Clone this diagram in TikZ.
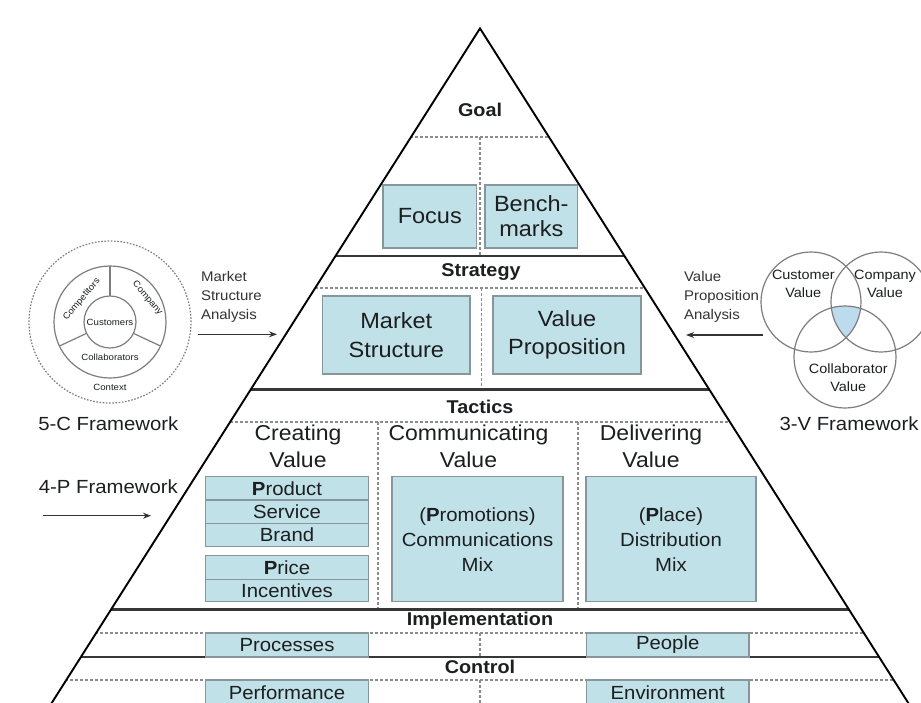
\documentclass[tikz,border=0pt]{standalone}
\usepackage{fontspec}
\setmainfont{Liberation Sans}[FakeStretch=1.07]
\usetikzlibrary{arrows.meta}

\definecolor{boxfill}{RGB}{192,225,231}
\definecolor{boxline}{RGB}{135,150,155}
\definecolor{levelline}{RGB}{55,55,55}
\definecolor{dashline}{RGB}{140,140,140}
\definecolor{inktext}{RGB}{28,30,32}
\definecolor{ringline}{RGB}{125,125,125}
\definecolor{overlap}{RGB}{188,220,238}

\newcommand{\fsz}[2]{\fontsize{#1}{#2}\selectfont}

\tikzset{
  box/.style={rectangle, draw=boxline, fill=boxfill, line width=1.1pt,
              inner sep=0pt, align=center, text=inktext},
  levelrule/.style={draw=levelline, line width=2.8pt},
  dashrule/.style={draw=dashline, line width=1.3pt, dash pattern=on 3pt off 2pt},
  edge/.style={draw=black, line width=1.9pt, line join=miter},
  levellabel/.style={font=\fsz{18.5}{20}\bfseries, text=inktext},
  colhead/.style={font=\fsz{21.5}{27}, align=center, text=inktext},
  sidetext/.style={font=\fsz{14}{19}, align=left, anchor=west, text=black!80},
  frametitle/.style={font=\fsz{19}{22}, text=inktext},
  ring/.style={draw=ringline, line width=1.2pt},
  tiny/.style={font=\fsz{9}{10}, text=inktext, inner sep=0pt},
  venntext/.style={font=\fsz{13.5}{18.3}, align=center, text=inktext},
  feed/.style={draw=black!80, line width=1.2pt, -{Stealth[length=8pt,width=6pt]}}
}

\begin{document}
\begin{tikzpicture}[x=1pt, y=-1pt]
\useasboundingbox (0,0) rectangle (921,702);
\clip (0,0) rectangle (921,702);
\fill[white] (0,0) rectangle (921,702);

% pyramid outline points
\coordinate (apex) at (480,28.4);
\coordinate (bl) at (15.5,760);
\coordinate (br) at (944.5,760);

% level separators, trimmed to the pyramid
\begin{scope}
  \clip (apex) -- (bl) -- (br) -- cycle;
  \draw[dashrule] (0,137) -- (921,137);
  \draw[dashrule] (0,288) -- (921,288);
  \draw[dashrule] (0,422) -- (921,422);
  \draw[dashrule] (0,633) -- (921,633);
  \draw[dashrule] (0,680) -- (921,680);
  \draw[levelrule] (0,256) -- (921,256);
  \draw[levelrule] (0,389.3) -- (921,389.3);
  \draw[levelrule] (0,609.3) -- (921,609.3);
  \draw[levelrule] (0,657) -- (921,657);
\end{scope}

% column dividers
\draw[dashrule] (480,137) -- (480,255);
\draw[dashrule] (481.7,288) -- (481.7,388);
\draw[dashrule] (378,422) -- (378,608);
\draw[dashrule] (578,422) -- (578,608);
\draw[dashrule] (480,633) -- (480,656);
\draw[dashrule] (480,680) -- (480,710);

% level titles
\node[levellabel] (goal) at (480,110) {Goal};
\node[levellabel] (strategy) at (481,272) {Strategy};
\node[levellabel] (tactics) at (480,407) {Tactics};
\node[levellabel] (impl) at (480,620.7) {Implementation};
\node[levellabel] (control) at (480,667) {Control};

% goal
\node[box, minimum width=93.7pt, minimum height=63pt, font=\fsz{22}{25}] (focus) at (429.8,216.5) {Focus};
\node[box, minimum width=92.7pt, minimum height=63pt, font=\fsz{22}{25}] (bench) at (531.3,216.5) {Bench-\\marks};

% strategy
\node[box, minimum width=147.3pt, minimum height=78pt, font=\fsz{22}{28.5}] (mstruct) at (396.3,335) {Market\\Structure};
\node[box, minimum width=148pt, minimum height=78pt, font=\fsz{22}{28.5}] (vprop) at (567,335) {Value\\Proposition};

% tactics
\node[colhead] (creating) at (298,446.5) {Creating\\Value};
\node[colhead] (communicating) at (468.5,446.5) {Communicating\\Value};
\node[colhead] (delivering) at (651,446.5) {Delivering\\Value};

\begin{scope}[every node/.style={box, minimum width=162.6pt, font=\fsz{19}{22}}]
  \node[minimum height=23.3pt] (product) at (287,488.3) {{\bfseries P}roduct};
  \node[minimum height=23.3pt] (service) at (287,511.7) {Service};
  \node[minimum height=23.3pt] (brand) at (287,535) {Brand};
  \node[minimum height=24.3pt] (price) at (287,567.2) {{\bfseries P}rice};
  \node[minimum height=22.4pt] (incent) at (287,590.5) {Incentives};
\end{scope}

\node[box, minimum width=171pt, minimum height=125pt, font=\fsz{19}{25}] (commix) at (477.5,539.2)
  {({\bfseries P}romotions)\\Communications\\Mix};
\node[box, minimum width=170pt, minimum height=125pt, font=\fsz{19}{25}] (distmix) at (671,539.2)
  {({\bfseries P}lace)\\Distribution\\Mix};

% implementation and control
\begin{scope}[every node/.style={box, minimum width=162.6pt, font=\fsz{19}{22}}]
  \node[minimum height=24pt] (processes) at (287,645) {Processes};
  \node[minimum height=24pt] (people) at (667.7,645) {People};
  \node[minimum height=26pt] (performance) at (287,693) {Performance};
  \node[minimum height=26pt] (environment) at (667.7,693) {Environment};
\end{scope}

% pyramid sides
\draw[edge] (bl) -- (apex) -- (br);

% 5-C framework
\coordinate (cc) at (110,322);
\draw[ring, dash pattern=on 1.6pt off 1.6pt] (cc) circle[radius=81pt];
\draw[ring] (cc) circle[radius=56pt];
\draw[ring] (cc) circle[radius=26pt];
\draw[ring] (110,296) -- (110,266);
\draw[ring] (86.4,333.4) -- (59.3,346.1);
\draw[ring] (133.6,333.4) -- (160.7,346.1);
\node[tiny] (customers) at (110,322.7) {Customers};
\node[tiny, rotate=50] (competitors) at (81.7,299.3) {Competitors};
\node[tiny, rotate=-50] (company) at (147.3,298.3) {Company};
\node[tiny] (collab) at (110,357.3) {Collaborators};
\node[tiny] (context) at (110,387.7) {Context};
\node[frametitle] (fivec) at (108.3,424) {5-C Framework};

\node[sidetext] (msa) at (197.5,297) {Market\\Structure\\Analysis};
\coordinate (msa-from) at (198,334.3);
\coordinate (msa-to) at (277,334.3);
\draw[feed] (msa-from) -- (msa-to);

% 4-P framework
\node[frametitle] (fourp) at (108.3,486.7) {4-P Framework};
\coordinate (fp-from) at (43.3,515.7);
\coordinate (fp-to) at (151,515.7);
\draw[feed] (fp-from) -- (fp-to);

% 3-V framework
\coordinate (custc) at (811,302);
\coordinate (compc) at (881,302);
\coordinate (collc) at (845,357);
\begin{scope}
  \clip (custc) circle[radius=50pt];
  \clip (compc) circle[radius=50pt];
  \fill[overlap] (collc) circle[radius=51pt];
\end{scope}
\draw[ring] (custc) circle[radius=50pt];
\draw[ring] (compc) circle[radius=50pt];
\draw[ring] (collc) circle[radius=51pt];
\node[venntext] (custv) at (803.3,284) {Customer\\Value};
\node[venntext] (compv) at (885,284) {Company\\Value};
\node[venntext] (collv) at (848.3,377.5) {Collaborator\\Value};
\node[frametitle] (threev) at (849,423.3) {3-V Framework};

\node[sidetext] (vpa) at (680.5,297) {Value\\Proposition\\Analysis};
\coordinate (vpa-from) at (763,335);
\coordinate (vpa-to) at (686,335);
\draw[feed] (vpa-from) -- (vpa-to);
\end{tikzpicture}
\end{document}
